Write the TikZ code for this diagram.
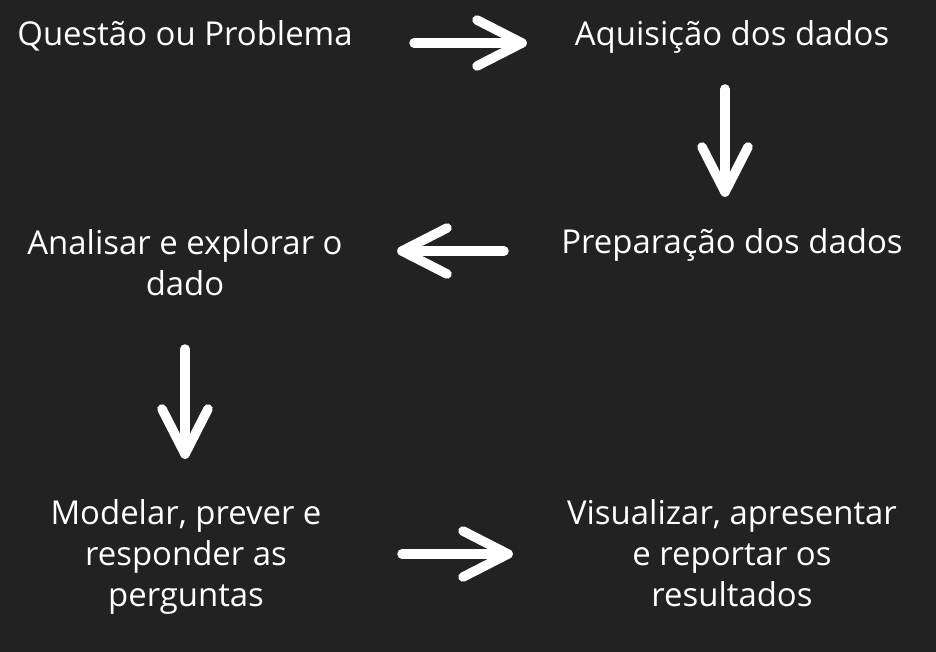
\documentclass[tikz,border=0pt]{standalone}
\usepackage{fontspec}
\setmainfont{Open Sans}
\usetikzlibrary{calc}
\definecolor{bg}{HTML}{222222}
\tikzset{
  lbl/.style={text=white, align=center, anchor=base, inner sep=0pt,
    font=\fontsize{32.9pt}{41pt}\selectfont},
  arr/.style={draw=white, line width=9.5pt, line cap=round, line join=round},
}
\newcommand{\harrow}[3]{% start, tip, sign
  \draw[arr] (#1) -- (#2);
  \draw[arr] ($(#2)+(#3*-45,-23)$) -- (#2) -- ($(#2)+(#3*-45,23)$);
}
\newcommand{\varrow}[2]{% start, tip (downwards)
  \draw[arr] (#1) -- (#2);
  \draw[arr] ($(#2)+(-23,-45)$) -- (#2) -- ($(#2)+(23,-45)$);
}
\begin{document}
\begin{tikzpicture}[x=1pt,y=-1pt]
\fill[bg] (0,0) rectangle (936,652);
\useasboundingbox (0,0) rectangle (936,652);

% base anchor of a multi-line node is the baseline of its last line
\node[lbl] (q) at (185,46) {Questão ou Problema};
\node[lbl] (a) at (732,46) {Aquisição dos dados};
\node[lbl] (p) at (732,254) {Preparação dos dados};
\node[lbl] (e) at (185,295) {Analisar e explorar o\\dado};
\node[lbl] (m) at (186,606) {Modelar, prever e\\responder as\\perguntas};
\node[lbl] (v) at (732,606) {Visualizar, apresentar\\e reportar os\\resultados};

\coordinate (a1s) at (414,43);  \coordinate (a1t) at (522,43);
\coordinate (a2s) at (725,89);  \coordinate (a2t) at (725,192);
\coordinate (a3s) at (504,251); \coordinate (a3t) at (402,251);
\coordinate (a4s) at (185,349); \coordinate (a4t) at (185,454);
\coordinate (a5s) at (402,554); \coordinate (a5t) at (508,554);

\harrow{a1s}{a1t}{1}
\varrow{a2s}{a2t}
\harrow{a3s}{a3t}{-1}
\varrow{a4s}{a4t}
\harrow{a5s}{a5t}{1}
\end{tikzpicture}
\end{document}
